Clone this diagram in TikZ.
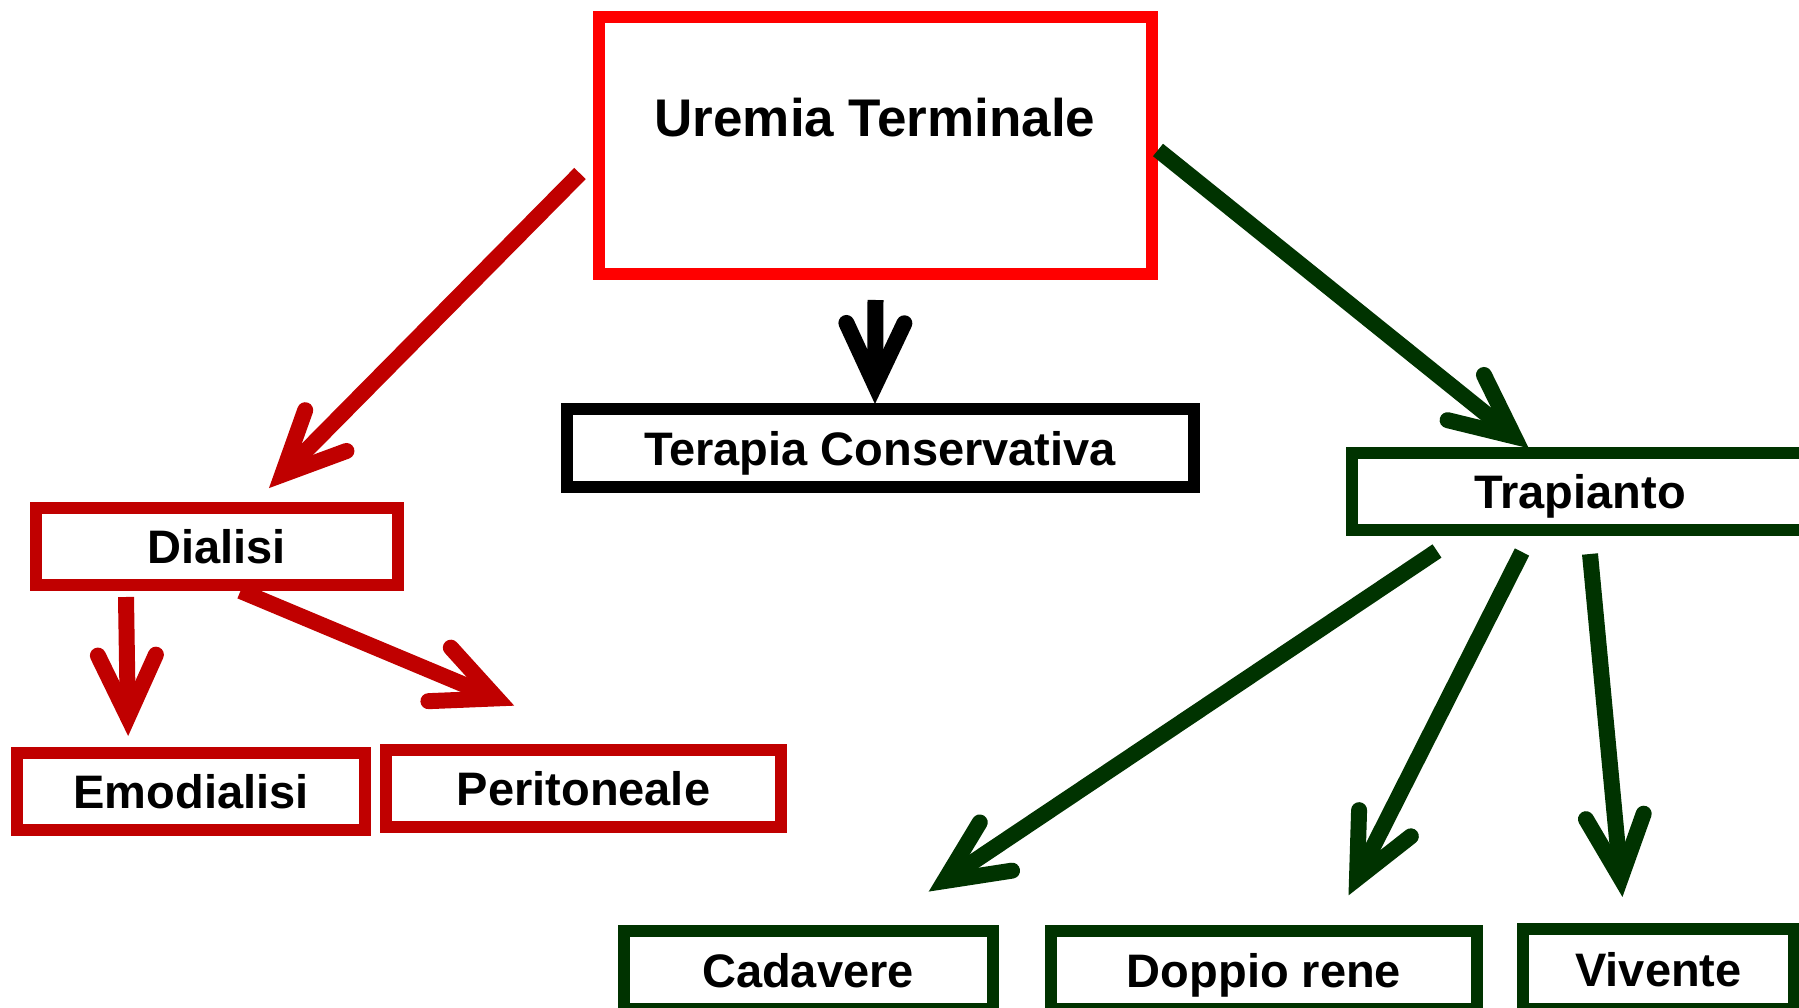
\documentclass[tikz,border=0pt]{standalone}
\usepackage{fontspec}
\setmainfont{Liberation Sans}
\usetikzlibrary{arrows.meta}
\definecolor{uremred}{HTML}{FF0000}
\definecolor{dialred}{HTML}{C00000}
\definecolor{trapgreen}{HTML}{003300}

\begin{document}
\begin{tikzpicture}[x=1pt,y=-1pt,
  box/.style={draw,line width=12pt,inner sep=0pt,text height=34pt,text depth=0pt,font=\fontsize{47}{56}\selectfont\bfseries},
  arr/.style={line width=16pt,shorten >=-10pt,-{Straight Barb[length=62pt,width=58pt,line cap=round,line join=miter]}}]
  \useasboundingbox (0,0) rectangle (1799,1008);
  % boxes (absolute positions, pixel grid)
  \node[box,draw=uremred,minimum width=553pt,minimum height=257pt] at (875.5,145.5) (urem) {};
  \node[font=\fontsize{53}{60}\selectfont\bfseries] at (875,118) (uremtxt) {Uremia Terminale};
  \node[box,draw=black,minimum width=627pt,minimum height=78pt] at (880,448) (terap) {Terapia Conservativa};
  \node[box,draw=trapgreen,minimum width=456pt,minimum height=77pt] at (1580,491.5) (trap) {Trapianto};
  \node[box,draw=dialred,minimum width=362pt,minimum height=77pt] at (216.5,546.5) (dial) {Dialisi};
  \node[box,draw=dialred,minimum width=348pt,minimum height=77pt] at (191,791.5) (emod) {Emodialisi};
  \node[box,draw=dialred,minimum width=395pt,minimum height=77pt] at (583.5,788) (perit) {Peritoneale};
  \node[box,draw=trapgreen,minimum width=369pt,minimum height=78pt] at (808,970) (cad) {Cadavere};
  \node[box,draw=trapgreen,minimum width=426pt,minimum height=78pt] at (1264,970) (dopp) {Doppio rene};
  \node[box,draw=trapgreen,minimum width=271pt,minimum height=80pt] at (1658.5,969) (viv) {Vivente};
  % arrows
  \draw[arr,dialred] ([xshift=-13pt,yshift=-28pt]urem.west) -- ([xshift=59.5pt,yshift=21pt]dial.north);
  \draw[arr,black] ([yshift=-20pt]urem.south) -- ([xshift=-5pt,yshift=9pt]terap.north);
  \draw[arr,trapgreen] ([yshift=-4.5pt]urem.east) -- ([xshift=-59pt,yshift=5pt]trap.north);
  \draw[arr,dialred] ([xshift=-90.5pt,yshift=-6pt]dial.south) -- ([xshift=-63pt,yshift=21pt]emod.north);
  \draw[arr,dialred] ([xshift=24pt]dial.south) -- ([xshift=-78.5pt,yshift=41.7pt]perit.north);
  \draw[arr,trapgreen] ([xshift=-143pt,yshift=-15pt]trap.south) -- ([xshift=129pt,yshift=39pt]cad.north);
  \draw[arr,trapgreen] ([xshift=-58pt,yshift=-16pt]trap.south) -- ([xshift=89pt,yshift=38.5pt]dopp.north);
  \draw[arr,trapgreen] ([xshift=10pt,yshift=-18pt]trap.south) -- ([xshift=-37pt,yshift=36pt]viv.north);
\end{tikzpicture}
\end{document}
